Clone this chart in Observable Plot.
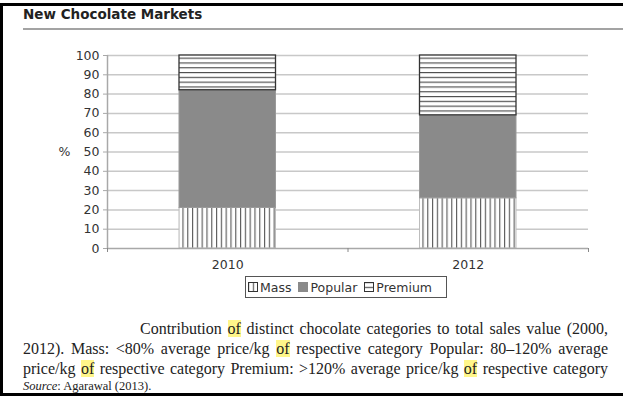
<!DOCTYPE html>
<html>
<head>
<meta charset="utf-8">
<script src="https://cdn.jsdelivr.net/npm/d3@7"></script>
<script src="https://cdn.jsdelivr.net/npm/@observablehq/plot@0.6"></script>
<style>
  html, body { margin: 0; padding: 0; background: #fff; }
  #page { position: relative; width: 623px; height: 397px; overflow: hidden; background: #fff; }
  #frame { position: absolute; left: 0; top: 3px; width: 640px; height: 393px; box-sizing: border-box;
           border-left: 3px solid #000; border-top: 3px solid #000; border-bottom: 3px solid #000; }
  #title { position: absolute; left: 23px; top: 6px; font: bold 13.5px "DejaVu Sans", sans-serif; color: #222; }
  #rule { position: absolute; left: 23px; top: 28px; width: 600px; height: 2px; background: #a3a3a3; }
  #chart { position: absolute; left: 0; top: 0; }
  #legend { position: absolute; left: 245px; top: 276px; width: 202px; height: 22px; border: 1px solid #555;
            box-sizing: border-box; font: 12.5px "DejaVu Sans", sans-serif; color: #333; display: flex; align-items: center;
            padding-left: 2px; white-space: nowrap; }
  #legend .item { display: flex; align-items: center; margin-right: 7px; }
  #legend svg { margin-right: 2px; }
  .cap { position: absolute; left: 23px; width: 585px; font: 16px "Liberation Serif", serif; color: #222;
         text-align: justify; text-align-last: justify; white-space: nowrap; }
  .hl { background: #fff68a; }
  #src { position: absolute; left: 23px; font: 12.5px "Liberation Serif", serif; color: #222; }
</style>
</head>
<body>
<svg width="0" height="0" style="position:absolute">
  <defs>
    <pattern id="massPat" patternUnits="userSpaceOnUse" width="4.8" height="10">
      <rect width="4.8" height="10" fill="#fff"></rect>
      <line x1="0.6" y1="0" x2="0.6" y2="10" stroke="#555" stroke-width="1.1"></line>
    </pattern>
    <pattern id="premPat" patternUnits="userSpaceOnUse" width="10" height="4.8">
      <rect width="10" height="4.8" fill="#fff"></rect>
      <line x1="0" y1="0.6" x2="10" y2="0.6" stroke="#444" stroke-width="1.1"></line>
    </pattern>
  </defs>
</svg>
<div id="page">
  <div id="frame"></div>
  <div id="title">New Chocolate Markets</div>
  <div id="rule"></div>
  <div id="chart"></div>
  <div id="legend"></div>
  <div class="cap" style="top:320px; left:140px; width:468px;">Contribution <span class="hl">of</span> distinct chocolate categories to total sales value (2000,</div>
  <div class="cap" style="top:340px;">2012). Mass: &lt;80% average price/kg <span class="hl">of</span> respective category Popular: 80–120% average</div>
  <div class="cap" style="top:360px;">price/kg <span class="hl">of</span> respective category Premium: &gt;120% average price/kg <span class="hl">of</span> respective category</div>
  <div id="src" style="top:379px;"><i>Source</i>: Agarawal (2013).</div>
</div>
<script>
// Years on the category axis
const years = ["2010", "2012"];
// Share of total sales value (%) per price segment
const mass = [21, 26];
const popular = [61, 43];
const premium = [18, 31];
// Segment names and y-axis ticks
const segments = ["Mass", "Popular", "Premium"];
const yTicks = [0, 10, 20, 30, 40, 50, 60, 70, 80, 90, 100];

const fills = { Mass: "url(#massPat)", Popular: "#8a8a8a", Premium: "url(#premPat)" };
const strokes = { Mass: "#bdbdbd", Popular: "#9a9a9a", Premium: "#333" };

const series = { Mass: mass, Popular: popular, Premium: premium };
const rows = [];
years.forEach((y, i) => segments.forEach(s => rows.push({ year: y, idx: i, segment: s, value: series[s][i] })));

const chart = Plot.plot({
  width: 623,
  height: 276,
  marginLeft: 107,
  marginRight: 35,
  marginTop: 55,
  marginBottom: 28,
  style: { fontFamily: "DejaVu Sans, sans-serif", fontSize: "12.5px", color: "#333", background: "transparent" },
  x: { type: "linear", domain: [0, years.length], axis: null },
  y: { domain: [0, 100], axis: null },
  marks: [
    Plot.ruleY(yTicks.filter(d => d > 0), { stroke: "#c8c8c8", strokeWidth: 1.5 }),
    Plot.rectY(rows, Plot.stackY({
      x: "idx", interval: 1, y: "value", z: "segment", order: segments,
      fill: d => fills[d.segment], stroke: d => strokes[d.segment], strokeWidth: d => d.segment === "Premium" ? 1.3 : 1,
      insetLeft: 72, insetRight: 72
    })),
    // y axis: line, outward ticks and labels
    Plot.ruleX([0], { stroke: "#a8a8a8", strokeWidth: 1.5 }),
    Plot.axisY({ ticks: yTicks, tickSize: 4, tickPadding: 4, stroke: "#a8a8a8", fill: "#333", label: null }),
    // x axis: baseline, ticks at category boundaries, centered year labels
    Plot.ruleY([0], { stroke: "#a8a8a8", strokeWidth: 1.5 }),
    Plot.axisX({ ticks: d3.range(years.length + 1), tickSize: 4, tickFormat: () => "", stroke: "#888", label: null }),
    Plot.text(years, { x: (d, i) => i + 0.5, y: () => 0, dy: 16, fill: "#333", fontSize: 12.5 }),
    Plot.text(["%"], { y: () => 50, frameAnchor: "left", dx: -49, textAnchor: "start", fill: "#333", fontSize: 12.5 })
  ]
});
document.getElementById("chart").appendChild(chart);

// Legend with pattern swatches
const legend = d3.select("#legend");
segments.forEach(s => {
  const item = legend.append("div").attr("class", "item");
  const sw = item.append("svg").attr("width", 10).attr("height", 10);
  sw.append("rect").attr("x", 0.5).attr("y", 0.5).attr("width", 9).attr("height", 9)
    .attr("fill", fills[s]).attr("stroke", s === "Popular" ? "#8a8a8a" : "#333").attr("stroke-width", 1);
  item.append("span").text(s);
});
</script>
</body>
</html>
